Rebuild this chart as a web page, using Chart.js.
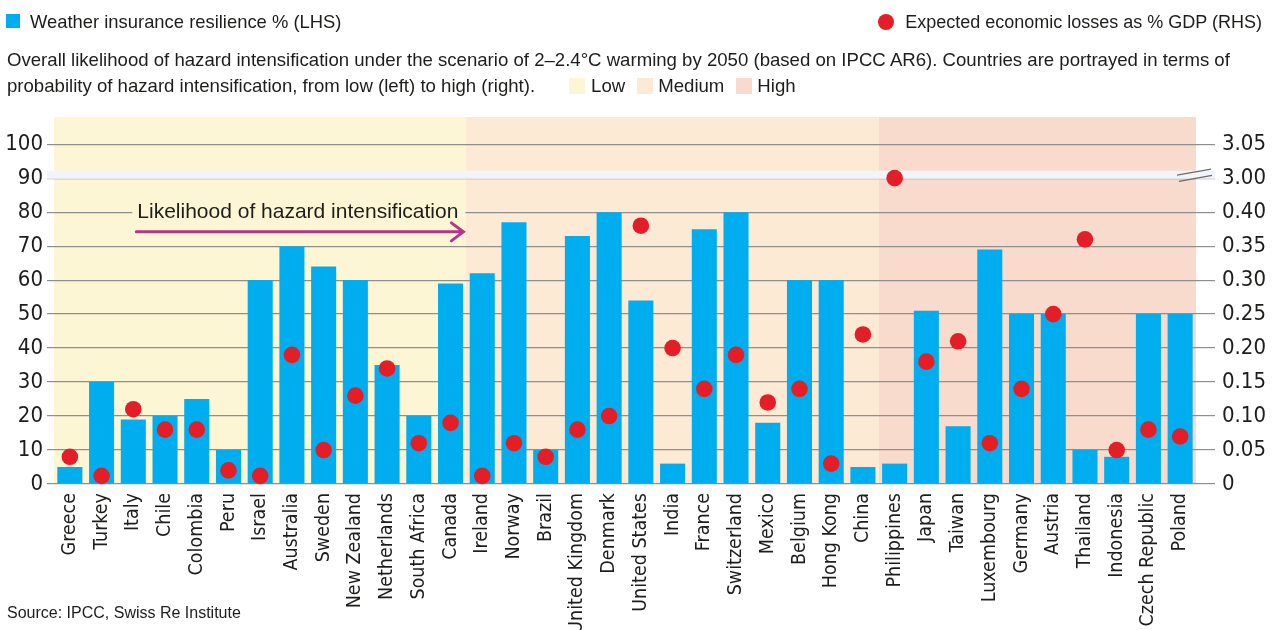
<!DOCTYPE html>
<html>
<head>
<meta charset="utf-8">
<script src="https://cdn.jsdelivr.net/npm/chart.js@4.4.1/dist/chart.umd.min.js"></script>
<style>
    html, body { margin: 0; padding: 0; background: #fff; }
    body { width: 1277px; height: 630px; position: relative; overflow: hidden;
           font-family: 'Liberation Sans', Arial, sans-serif; color: #1d1d1b; }
    #chart { position: absolute; left: 0; top: 0; }
    .txt { position: absolute; white-space: nowrap; font-size: 18.6px; line-height: 20px; }
    .sq { display: inline-block; width: 16px; height: 16px; vertical-align: -2px; }
    #legend-bar { left: 30px; top: 12px; font-size: 18.4px; }
    #legend-bar .sq { position: absolute; left: -24px; top: 2px; width: 14px; height: 14px; background: #00aeef; }
    #legend-dot { right: 15px; top: 12px; font-size: 18px; }
    #legend-dot .dot { position: absolute; left: -27px; top: 2px; width: 16px; height: 16px; border-radius: 50%; background: #e31e26; }
    #subtitle { left: 7px; top: 47px; line-height: 25.5px; }
    #source { left: 7px; top: 604px; font-size: 16px; line-height: 18px; }
</style>
</head>
<body>
<canvas id="chart" width="1277" height="630"></canvas>
<div class="txt" id="legend-bar"><span class="sq"></span>Weather insurance resilience % (LHS)</div>
<div class="txt" id="legend-dot"><span class="dot"></span>Expected economic losses as % GDP (RHS)</div>
<div class="txt" id="subtitle">Overall likelihood of hazard intensification under the scenario of 2–2.4°C warming by 2050 (based on IPCC AR6). Countries are portrayed in terms of<br>probability of hazard intensification, from low (left) to high (right).<span class="sq" style="background:#fdf6d5;margin-left:34px;margin-right:6px"></span>Low<span class="sq" style="background:#fcead5;margin-left:12px;margin-right:5px"></span>Medium<span class="sq" style="background:#f8dbcd;margin-left:12px;margin-right:5px"></span>High</div>
<div class="txt" id="source">Source: IPCC, Swiss Re Institute</div>
<script>
    'use strict';

    const countries = ['Greece', 'Turkey', 'Italy', 'Chile', 'Colombia', 'Peru', 'Israel', 'Australia',
        'Sweden', 'New Zealand', 'Netherlands', 'South Africa', 'Canada', 'Ireland', 'Norway', 'Brazil',
        'United Kingdom', 'Denmark', 'United States', 'India', 'France', 'Switzerland', 'Mexico',
        'Belgium', 'Hong Kong', 'China', 'Philippines', 'Japan', 'Taiwan', 'Luxembourg', 'Germany',
        'Austria', 'Thailand', 'Indonesia', 'Czech Republic', 'Poland'];

    // hazard intensification group of each country
    const likelihood = ['Low', 'Low', 'Low', 'Low', 'Low', 'Low', 'Low', 'Low', 'Low', 'Low', 'Low', 'Low', 'Low',
        'Medium', 'Medium', 'Medium', 'Medium', 'Medium', 'Medium', 'Medium', 'Medium', 'Medium', 'Medium',
        'Medium', 'Medium', 'Medium',
        'High', 'High', 'High', 'High', 'High', 'High', 'High', 'High', 'High', 'High'];

    // Weather insurance resilience % (LHS)
    const resilience = [5, 30, 19, 20, 25, 10, 60, 70, 64, 60, 35, 20, 59,
        62, 77, 10, 73, 80, 54, 6, 75, 80, 18, 60, 60, 5,
        6, 51, 17, 69, 50, 50, 10, 8, 50, 50];

    // Expected economic losses as % GDP (RHS)
    const losses = [0.04, 0.012, 0.11, 0.08, 0.08, 0.02, 0.012, 0.19, 0.05, 0.13, 0.17, 0.06, 0.09,
        0.012, 0.06, 0.04, 0.08, 0.10, 0.38, 0.20, 0.14, 0.19, 0.12, 0.14, 0.03, 0.22,
        3.00, 0.18, 0.21, 0.06, 0.14, 0.25, 0.36, 0.05, 0.08, 0.07];

    const leftTicks = [0, 10, 20, 30, 40, 50, 60, 70, 80, 90, 100];
    const rightTickLabels = ['0', '0.05', '0.10', '0.15', '0.20', '0.25', '0.30', '0.35', '0.40', '3.00', '3.05'];

    // right axis is broken: 0-0.40 sits on 0-80 of the left axis, 3.00-3.05 on 90-100
    function lossToAxis(v) {
        return v >= 3 ? 90 + (v - 3) * 200 : v * 200;
    }

    const zoneColors = { Low: '#fdf6d5', Medium: '#fcead5', High: '#f8dbcd' };
    const gridColor = '#8f8f8f';
    const textColor = '#1d1d1b';
    const condensed = "'DejaVu Sans Condensed', 'Liberation Sans', sans-serif";

    const backdrop = {
        id: 'backdrop',
        beforeDraw(chart) {
            const { ctx, chartArea, scales } = chart;
            const x = scales.x;
            const half = (x.getPixelForValue(1) - x.getPixelForValue(0)) / 2;
            ctx.save();
            // one rectangle per run of equal likelihood
            let start = 0;
            for (let i = 1; i <= likelihood.length; i++) {
                if (i < likelihood.length && likelihood[i] === likelihood[start]) continue;
                const x0 = Math.round(x.getPixelForValue(start) - half);
                const x1 = Math.round(x.getPixelForValue(i - 1) + half);
                ctx.fillStyle = zoneColors[likelihood[start]];
                ctx.fillRect(x0, chartArea.top, x1 - x0, chartArea.bottom - chartArea.top);
                start = i;
            }
            ctx.restore();
        },
        beforeDatasetsDraw(chart) {
            const { ctx, chartArea, scales } = chart;
            const x = scales.x, y = scales.y;
            const half = (x.getPixelForValue(1) - x.getPixelForValue(0)) / 2;
            ctx.save();

            // axis break band
            const bTop = y.getPixelForValue(92.2), bBot = y.getPixelForValue(89.8);
            ctx.fillStyle = '#f3f4fa';
            ctx.fillRect(chartArea.left - 7, bTop, chartArea.right - chartArea.left + 26, bBot - bTop);
            const r = chartArea.right;
            ctx.strokeStyle = '#6b6b6b';
            ctx.lineWidth = 1.2;
            ctx.beginPath();
            ctx.moveTo(r - 19, bTop + 4.5); ctx.lineTo(r + 15, bTop - 1.5);
            ctx.moveTo(r - 17, bBot + 2.5); ctx.lineTo(r + 16, bBot - 3.5);
            ctx.stroke();

            // likelihood annotation
            const lowEnd = x.getPixelForValue(likelihood.lastIndexOf('Low')) + half;
            const startX = x.getPixelForValue(2) + 3;
            const tipX = lowEnd - 3;
            const yText = y.getPixelForValue(80);
            ctx.fillStyle = zoneColors.Low;
            ctx.fillRect(startX - 4, yText - 12, tipX - startX + 6, 24);
            ctx.fillStyle = textColor;
            ctx.font = "21px 'Liberation Sans', Arial, sans-serif";
            ctx.textBaseline = 'alphabetic';
            ctx.fillText('Likelihood of hazard intensification', startX + 1, yText + 6);

            const yArrow = y.getPixelForValue(74.2);
            ctx.strokeStyle = '#b4358c';
            ctx.lineWidth = 3;
            ctx.lineCap = 'round';
            ctx.beginPath();
            ctx.moveTo(startX, yArrow); ctx.lineTo(tipX, yArrow);
            ctx.moveTo(tipX - 12, yArrow - 9); ctx.lineTo(tipX, yArrow); ctx.lineTo(tipX - 12, yArrow + 9);
            ctx.stroke();
            ctx.restore();
        }
    };

    function fixedTicks(scale) {
        scale.ticks = leftTicks.map(v => ({ value: v }));
    }

    document.addEventListener('DOMContentLoaded', function() {
        const ctx = document.getElementById('chart');

        new Chart(ctx, {
            data: {
                labels: countries,
                datasets: [
                    {
                        type: 'line',
                        label: 'Expected economic losses as % GDP (RHS)',
                        data: losses.map(lossToAxis),
                        yAxisID: 'yR',
                        showLine: false,
                        pointRadius: 8.3,
                        pointHoverRadius: 8.3,
                        pointBackgroundColor: '#e31e26',
                        pointBorderWidth: 0,
                        clip: false,
                        order: 0
                    },
                    {
                        type: 'bar',
                        label: 'Weather insurance resilience % (LHS)',
                        data: resilience,
                        yAxisID: 'y',
                        backgroundColor: '#00aeef',
                        categoryPercentage: 1,
                        barPercentage: 0.79,
                        order: 1
                    }
                ]
            },
            options: {
                responsive: false,
                animation: false,
                devicePixelRatio: 1,
                layout: { padding: { top: 117, left: 0, right: 0, bottom: 0 } },
                plugins: {
                    legend: { display: false },
                    tooltip: { enabled: false }
                },
                scales: {
                    x: {
                        type: 'category',
                        offset: true,
                        grid: { display: false, drawTicks: false },
                        border: { display: false },
                        ticks: {
                            autoSkip: false,
                            maxRotation: 90,
                            minRotation: 90,
                            padding: 9,
                            color: textColor,
                            font: { family: condensed, size: 19.5 }
                        },
                        afterFit(scale) { scale.height = 146; }
                    },
                    y: {
                        position: 'left',
                        min: 0,
                        max: 108,
                        afterBuildTicks: fixedTicks,
                        grid: { color: gridColor, lineWidth: 1.2, tickLength: 7 },
                        border: { display: false },
                        ticks: {
                            padding: 4,
                            color: textColor,
                            font: { family: condensed, size: 22 }
                        },
                        afterFit(scale) { scale.width = 54; }
                    },
                    yR: {
                        position: 'right',
                        min: 0,
                        max: 108,
                        afterBuildTicks: fixedTicks,
                        grid: { color: gridColor, lineWidth: 1.2, tickLength: 19, drawOnChartArea: false },
                        border: { display: false },
                        ticks: {
                            padding: 7,
                            color: textColor,
                            font: { family: condensed, size: 22 },
                            callback: function(value, index) {
                                return rightTickLabels[index];
                            }
                        },
                        afterFit(scale) { scale.width = 81; }
                    }
                }
            },
            plugins: [backdrop]
        });
    });
</script>
</body>
</html>
